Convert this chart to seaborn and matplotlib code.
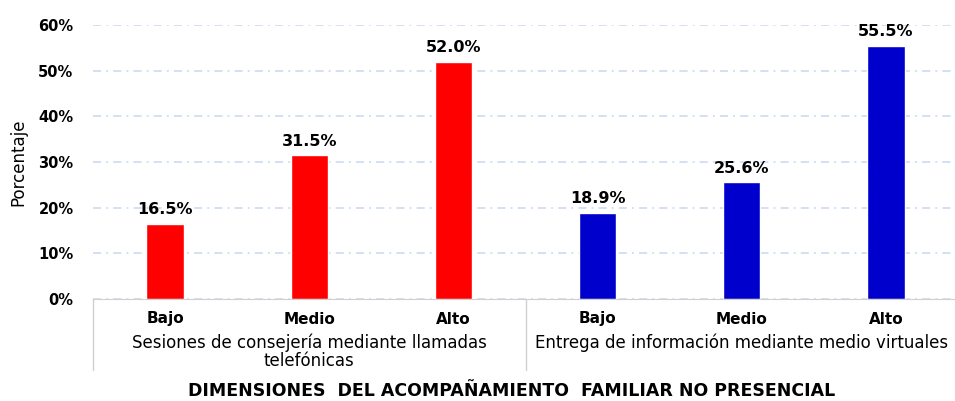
import pandas as pd
import numpy as np
import seaborn as sns
import matplotlib.pyplot as plt

# data
groups = ["Sesiones de consejería mediante llamadas\ntelefónicas",
          "Entrega de información mediante medio virtuales"]
levels = ["Bajo", "Medio", "Alto"]
sesiones = [16.5, 31.5, 52.0]
entrega = [18.9, 25.6, 55.5]
colors = ["#FF0000", "#0000CC"]

df = pd.DataFrame({
    "slot": [f"{g}|{l}" for g in groups for l in levels],
    "nivel": levels * 2,
    "grupo": [groups[0]] * 3 + [groups[1]] * 3,
    "valor": sesiones + entrega,
})

sns.set_style("white")
plt.rcParams["font.family"] = ["DejaVu Sans"]
plt.rcParams["text.color"] = "black"
plt.rcParams["xtick.color"] = "black"
plt.rcParams["ytick.color"] = "black"
plt.rcParams["axes.labelcolor"] = "black"

fig = plt.figure(figsize=(9.55, 4.01), dpi=100)
ax = fig.add_axes([93 / 955, 1 - 299 / 401, 865 / 955, 274 / 401])

sns.barplot(data=df, x="slot", y="valor", hue="grupo", palette=colors,
            width=0.26, dodge=False, legend=False, ax=ax, saturation=1)

ax.set_ylim(0, 60)
ax.set_xlim(-0.5, 5.5)
ax.set_yticks(np.arange(0, 61, 10))
ax.set_yticklabels([f"{v}%" for v in range(0, 61, 10)], fontsize=10.5, fontweight="bold")
# light blue dash-dot gridlines
ax.yaxis.grid(True, color="#D0DEF5", linestyle=(0, (4.5, 2.8, 1.1, 2.8)), linewidth=1.3)
ax.set_axisbelow(True)
ax.tick_params(axis="y", length=0, pad=14)
ax.set_xticks(range(6))
ax.set_xticklabels(df["nivel"], fontsize=11, fontweight="bold")
ax.tick_params(axis="x", length=0, pad=9)
ax.set_xlabel("")
ax.set_ylabel("Porcentaje", fontsize=12, labelpad=8)

for s in ["top", "right", "left"]:
    ax.spines[s].set_visible(False)
ax.spines["bottom"].set_color("#D0D0D0")

for i, v in enumerate(df["valor"]):
    ax.text(i, v + 1.4, f"{v:.1f}%", ha="center", va="bottom",
            fontsize=11.5, fontweight="bold")

# group boxes below the axis
trans = ax.get_xaxis_transform()
box_bottom = -(370 - 299) / 274
for x in [-0.5, 2.5, 5.5]:
    ax.plot([x, x], [0, box_bottom], transform=trans, color="#D0D0D0",
            linewidth=1, clip_on=False)
for k, g in enumerate(groups):
    ax.text(1 + 3 * k, -(334 - 299) / 274, g, transform=trans, ha="center",
            va="top", multialignment="center", fontsize=12, linespacing=1.0)

fig.text(512 / 955, 1 - 391 / 401,
         "DIMENSIONES  DEL ACOMPAÑAMIENTO  FAMILIAR NO PRESENCIAL",
         ha="center", va="center", fontsize=12.5, fontweight="bold")

fig.savefig("out.png", dpi=100)
